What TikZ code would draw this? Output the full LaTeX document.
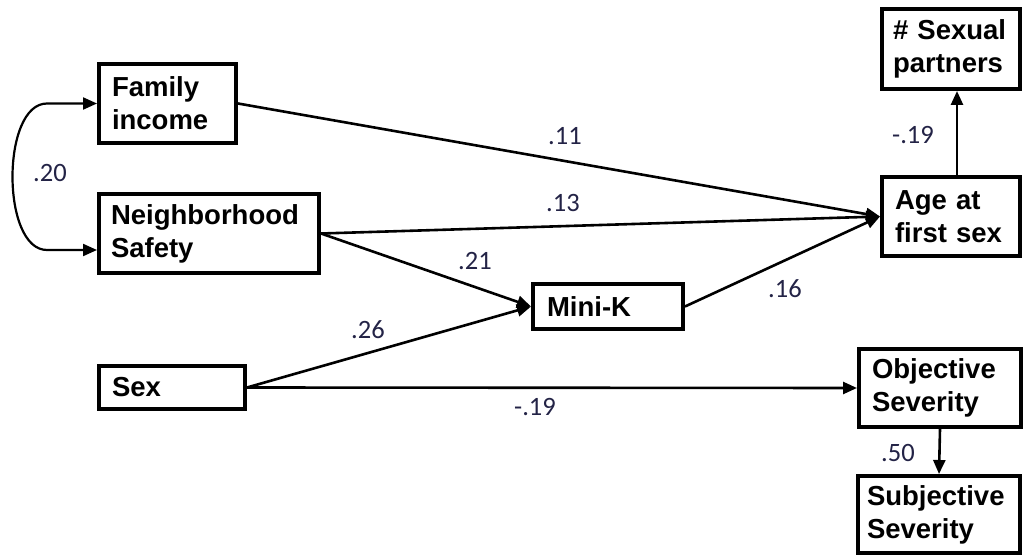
\documentclass[tikz,border=0pt]{standalone}
\usepackage{fontspec}
\setmainfont{Liberation Sans}
\newfontfamily\coeffont{Carlito}
\usetikzlibrary{arrows.meta}
\definecolor{coefcol}{RGB}{35,35,70}
\hyphenpenalty=10000
\begin{document}
\begin{tikzpicture}[x=1pt,y=-1pt,
  var/.style={draw, line width=4pt, rectangle, inner sep=0pt, align=left,
    font=\bfseries\fontsize{27.5}{33}\selectfont},
  link/.style={line width=2.6pt, -{Triangle[length=14pt,width=12pt]}},
  coef/.style={font=\coeffont\fontsize{26.5}{30}\selectfont, text=coefcol, inner sep=0pt}]
\useasboundingbox (0,0) rectangle (1025,556);

% variables
\node[var, minimum width=137pt, minimum height=79pt, text width=111pt] (fam) at (167.5,103.5) {Family\\income};
\node[var, minimum width=220pt, minimum height=79pt, text width=196pt] (nbh) at (209,233.5) {Neighborhood\\Safety};
\node[var, minimum width=146pt, minimum height=43pt, text width=120pt] (sex) at (172,387.5) {Sex};
\node[var, minimum width=150pt, minimum height=45pt, text width=122pt] (mk) at (608,306.5) {Mini-K};
\node[var, minimum width=138pt, minimum height=80pt, text width=116pt] (sp) at (951,49) {\# Sexual\\partners};
\node[var, minimum width=138pt, minimum height=79pt, text width=112pt] (age) at (951,216.5) {Age at\\first sex};
\node[var, minimum width=162pt, minimum height=78pt, text width=136pt] (obj) at (940,388) {Objective\\Severity};
\node[var, minimum width=162pt, minimum height=77pt, text width=144pt] (subj) at (939,514.5) {Subjective\\Severity};

% paths
\draw[link] (fam.east) -- (age.west);
\draw[link] (nbh.east) -- (age.west);
\draw[link] (nbh.east) -- (mk.west);
\draw[link] (sex.east) -- (mk.west);
\draw[link] (mk.east) -- (age.west);
\draw[link] (sex.east) -- (obj.west);
\draw[link] ([xshift=6pt]age.north) -- ([xshift=6pt]sp.south);
\draw[link] (obj.south) -- (subj.north);

% correlation
\coordinate (ct) at (47,103.5);
\coordinate (cb) at (47,250);
\draw[line width=2.2pt, {Triangle[length=14pt,width=12pt]}-{Triangle[length=14pt,width=12pt]}]
  (fam.west) -- (ct) .. controls (1,103.5) and (1,250) .. (cb) -- ([yshift=-16.5pt]nbh.west);

% coefficients
\node[coef] (c20) at (50,173) {.20};
\node[coef] (c11) at (565,136) {.11};
\node[coef] (c13) at (563,203) {.13};
\node[coef] (c21) at (475,261) {.21};
\node[coef] (c26) at (368,330) {.26};
\node[coef] (c16) at (785,289) {.16};
\node[coef] (c19a) at (535,407) {-.19};
\node[coef] (c19b) at (913,135) {-.19};
\node[coef] (c50) at (898,453) {.50};
\end{tikzpicture}
\end{document}
